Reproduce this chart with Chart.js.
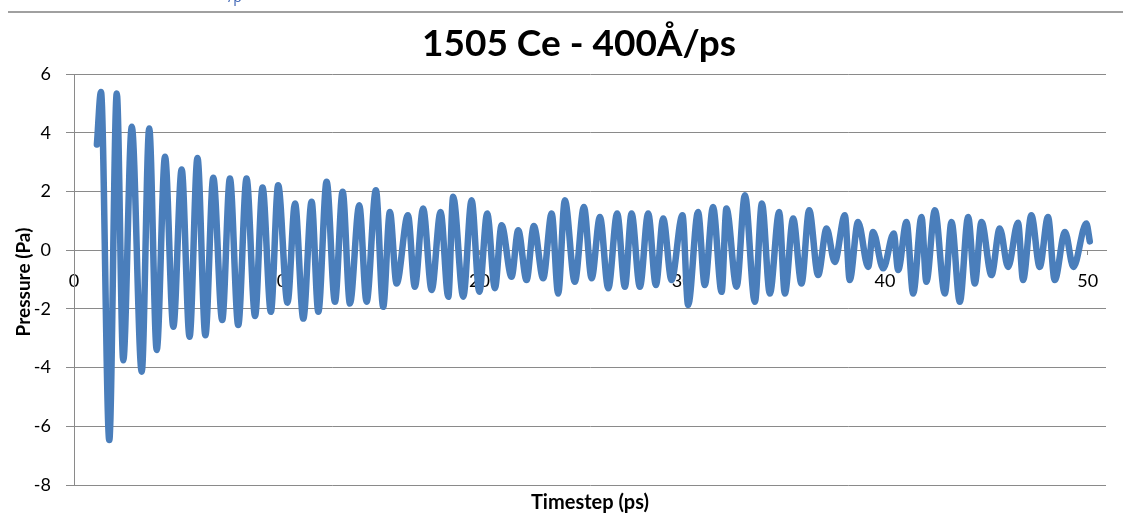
<!DOCTYPE html>
<html>
<head>
<meta charset="utf-8">
<script src="https://cdn.jsdelivr.net/npm/chart.js@4/dist/chart.umd.min.js"></script>
<style>
  html, body { margin: 0; padding: 0; background: #ffffff; }
  #wrap { width: 1123px; height: 513px; position: relative; }
</style>
</head>
<body>
<div id="wrap"><canvas id="chart" width="1123" height="513"></canvas></div>
<script>
// Pressure trace of the 1505 Ce run at 400 Å/ps (turning points of the signal)
const timeValues = [
  1.13, 1.33, 1.74, 2.11, 2.43, 2.85, 3.34, 3.71, 4.08, 4.49,
  4.90, 5.31, 5.70, 6.09, 6.48, 6.87, 7.31, 7.69, 8.10, 8.51,
  8.93, 9.30, 9.71, 10.07, 10.53, 10.90, 11.31, 11.72, 12.05, 12.46,
  12.87, 13.25, 13.61, 14.07, 14.43, 14.89, 15.25, 15.58, 15.91, 16.47,
  16.81, 17.22, 17.64, 18.08, 18.46, 18.70, 19.20, 19.61, 19.99, 20.38,
  20.76, 21.09, 21.58, 21.91, 22.32, 22.68, 23.14, 23.56, 23.88, 24.21,
  24.70, 25.15, 25.53, 25.94, 26.35, 26.79, 27.17, 27.50, 27.91, 28.32,
  28.70, 29.06, 29.47, 30.01, 30.29, 30.78, 31.11, 31.52, 31.94, 32.18,
  32.68, 33.09, 33.58, 33.93, 34.32, 34.78, 35.06, 35.47, 35.88, 36.26,
  36.70, 37.12, 37.52, 38.02, 38.26, 38.67, 39.17, 39.41, 39.91, 40.43,
  40.65, 41.06, 41.39, 41.80, 42.04, 42.46, 42.95, 43.28, 43.69, 44.10,
  44.43, 44.76, 45.25, 45.66, 46.07, 46.56, 46.81, 47.22, 47.63, 48.04,
  48.37, 48.88, 49.29, 49.93, 50.10
];
const pressureValues = [
  3.60, 5.39, -6.47, 5.34, -3.75, 4.20, -4.14, 4.14, -3.40, 3.18,
  -2.61, 2.75, -2.95, 3.14, -2.90, 2.47, -2.38, 2.44, -2.55, 2.44,
  -2.24, 2.13, -2.10, 2.21, -1.79, 1.59, -2.33, 1.65, -2.10, 2.33,
  -1.76, 1.99, -1.82, 1.53, -1.76, 2.04, -1.93, 1.30, -1.14, 1.19,
  -1.25, 1.42, -1.36, 1.30, -1.59, 1.82, -1.59, 1.70, -1.42, 1.25,
  -1.30, 0.85, -0.91, 0.68, -1.02, 0.82, -0.96, 1.25, -1.48, 1.70,
  -1.08, 1.47, -0.96, 1.13, -1.30, 1.25, -1.25, 1.25, -1.25, 1.25,
  -1.19, 1.08, -1.02, 1.19, -1.87, 1.30, -1.19, 1.47, -1.42, 1.42,
  -1.25, 1.87, -1.76, 1.59, -1.48, 1.30, -1.48, 1.08, -1.14, 1.36,
  -0.85, 0.74, -0.40, 1.19, -1.02, 0.96, -0.57, 0.62, -0.62, 0.57,
  -0.68, 0.96, -1.48, 1.13, -1.08, 1.36, -1.48, 0.96, -1.76, 1.13,
  -1.14, 0.96, -0.85, 0.74, -0.57, 0.93, -1.02, 1.19, -0.57, 1.13,
  -1.02, 0.62, -0.57, 0.91, 0.30
];
const xTickValues = [0, 10, 20, 30, 40, 50];
const yTickValues = [-8, -6, -4, -2, 0, 2, 4, 6];

const chartTitle = '1505 Ce - 400Å/ps';
const xTitle = 'Timestep (ps)';
const yTitle = 'Pressure (Pa)';

const gridGrey = '#8a8a8a';
const seriesBlue = 'rgb(74,126,187)';

// Titles and the rule above the chart are painted directly on the canvas
const decorations = {
  id: 'decorations',
  afterDraw(chart) {
    const ctx = chart.ctx;
    const area = chart.chartArea;
    ctx.save();
    ctx.strokeStyle = '#a0a0a0';
    ctx.lineWidth = 2;
    ctx.beginPath();
    ctx.moveTo(8, 12);
    ctx.lineTo(1123, 12);
    ctx.stroke();

    ctx.fillStyle = '#3a62b4';
    ctx.font = '14px "Open Sans"';
    ctx.textAlign = 'left';
    ctx.textBaseline = 'alphabetic';
    ctx.fillText('/p', 228, 2);

    ctx.fillStyle = '#000000';
    ctx.textAlign = 'center';
    ctx.textBaseline = 'middle';
    ctx.font = 'bold 37px Lato';
    ctx.fillText(chartTitle, 579, 44);

    ctx.font = 'bold 20px Lato';
    ctx.fillText(xTitle, (area.left + area.right) / 2, 503);

    ctx.translate(24, 282);
    ctx.rotate(-Math.PI / 2);
    ctx.font = 'bold 19px Lato';
    ctx.fillText(yTitle, 0, 0);
    ctx.restore();
  }
};

const points = timeValues.map((t, i) => ({ x: t, y: pressureValues[i] }));

new Chart(document.getElementById('chart'), {
  type: 'line',
  data: {
    datasets: [{
      data: points,
      borderColor: seriesBlue,
      borderWidth: 6.5,
      pointRadius: 0,
      fill: false,
      cubicInterpolationMode: 'monotone',
      borderJoinStyle: 'round',
      borderCapStyle: 'round'
    }]
  },
  options: {
    responsive: false,
    animation: false,
    devicePixelRatio: 1,
    layout: { padding: { top: 74, bottom: 28, left: 0, right: 17 } },
    plugins: {
      legend: { display: false },
      title: { display: false },
      tooltip: { enabled: false }
    },
    scales: {
      x: {
        type: 'linear',
        min: 0,
        max: 50.9,
        position: { y: 0 },
        afterBuildTicks(scale) {
          scale.ticks = xTickValues.map(v => ({ value: v }));
        },
        grid: {
          drawOnChartArea: false,
          drawTicks: true,
          tickLength: 4,
          color: gridGrey
        },
        border: { display: true, color: gridGrey, width: 1 },
        ticks: {
          autoSkip: false,
          maxRotation: 0,
          padding: 16,
          color: '#000000',
          font: { family: 'Lato', size: 18 }
        }
      },
      y: {
        type: 'linear',
        min: -8,
        max: 6,
        afterFit(scale) { scale.width = 74; },
        afterBuildTicks(scale) {
          scale.ticks = yTickValues.map(v => ({ value: v }));
        },
        grid: {
          color: gridGrey,
          lineWidth: 1,
          tickLength: 8
        },
        border: { display: true, color: gridGrey, width: 1 },
        ticks: {
          padding: 15,
          color: '#000000',
          font: { family: 'Lato', size: 18 }
        }
      }
    }
  },
  plugins: [decorations]
});
</script>
</body>
</html>
